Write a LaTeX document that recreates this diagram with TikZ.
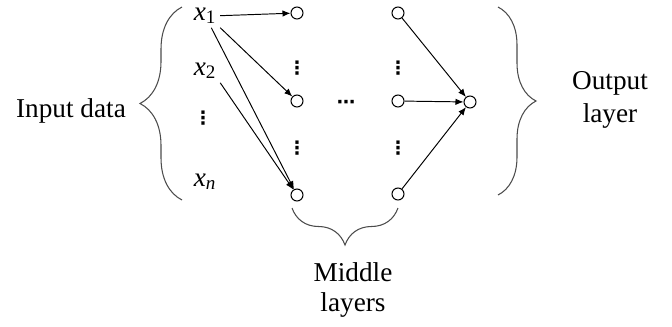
\documentclass[tikz,border=0pt]{standalone}
\usepackage{fontspec}
\setmainfont{Liberation Serif}
\newfontfamily\dotfont{DejaVu Sans}
\usetikzlibrary{arrows.meta,decorations.pathreplacing}

\begin{document}
\begin{tikzpicture}[
        x=0.02cm, y=-0.02cm,
        font=\fontsize{15.5}{18}\selectfont,
        neuron/.style={draw, circle, minimum size=0.24cm, inner sep=0pt,
            line width=0.6pt, fill=white},
        var/.style={anchor=base west, inner sep=2pt},
        vdot/.style={font=\dotfont\bfseries\fontsize{10.5}{12}\selectfont, inner sep=0pt},
        arrow/.style={-{Latex[length=1.6mm, width=1.3mm]}, line width=0.55pt},
        brace/.style={decorate, decoration={brace, amplitude=#1},
            line width=0.6pt, draw=black!70}
    ]
    \useasboundingbox (0,0) rectangle (672,326);

    % input column
    \node[var] (x1) at (190,20) {\textit{x}\textsubscript{1}};
    \node[var] (x2) at (190,75) {\textit{x}\textsubscript{2}};
    \node[vdot] (xd) at (203,118) {⋮};
    \node[var] (xn) at (190,186) {\textit{x}\textsubscript{\textit{n}}};

    % middle layers
    \node[neuron] (c11) at (297,13) {};
    \node[neuron] (c12) at (297,101) {};
    \node[neuron] (c13) at (297,195) {};
    \node[neuron] (c21) at (398,13) {};
    \node[neuron] (c22) at (398,101) {};
    \node[neuron] (c23) at (398,194) {};
    \node[vdot] (d11) at (297,68) {⋮};
    \node[vdot] (d12) at (297,148) {⋮};
    \node[vdot] (d21) at (398,68) {⋮};
    \node[vdot] (d22) at (398,148) {⋮};
    \node[vdot] (hd) at (346,104) {⋯};

    % output
    \node[neuron] (out) at (470,102) {};

    \draw[arrow] (x1.east) -- (c11);
    \draw[arrow] (x1.south east) -- (c12);
    \draw[arrow] (x1) -- (c13);
    \draw[arrow] (x2.south east) -- (c13);
    \draw[arrow] (c21) -- (out);
    \draw[arrow] (c22) -- (out);
    \draw[arrow] (c23) -- (out);

    % braces and labels
    \draw[brace=0.84cm] (182,200) -- (182,7);
    \draw[brace=0.76cm] (498,7) -- (498,195);
    \draw[brace=0.74cm] (398,208) -- (292,208);
    \node[anchor=base] (input) at (71,117) {Input data};
    \node[align=center, inner sep=0pt, font=\fontsize{15.5}{18.8}\selectfont]
        (outlabel) at (610,100) {Output\\layer};
    \node[align=center, inner sep=0pt, font=\fontsize{15.5}{17.6}\selectfont]
        (midlabel) at (353,290) {Middle\\layers};
\end{tikzpicture}
\end{document}
